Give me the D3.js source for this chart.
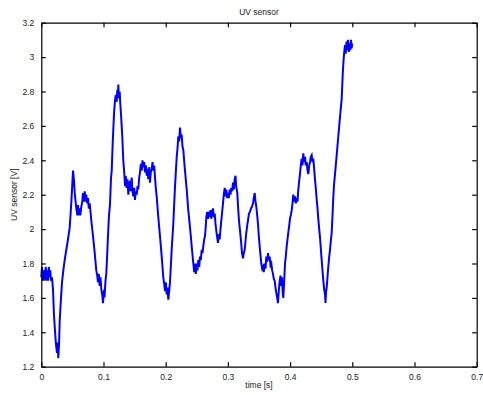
<!DOCTYPE html>
<html>
<head>
<meta charset="utf-8">
<script src="https://cdn.jsdelivr.net/npm/d3@7"></script>
<style>
  body { margin: 0; background: #fff; }
  text { font-family: "Liberation Sans", Arial, sans-serif; fill: #222; }
</style>
</head>
<body>
<svg id="chart" width="483" height="395"></svg>
<script>
  // sample times [s]
const times = [
  0.0000, 0.0011, 0.0023, 0.0035, 0.0047, 0.0059, 0.0072, 0.0084, 0.0096, 0.0108,
  0.0121, 0.0132, 0.0145, 0.0156, 0.0172, 0.0188, 0.0204, 0.0220, 0.0236, 0.0252,
  0.0264, 0.0273, 0.0285, 0.0296, 0.0317, 0.0333, 0.0354, 0.0376, 0.0402, 0.0429,
  0.0457, 0.0482, 0.0498, 0.0510, 0.0526, 0.0537, 0.0563, 0.0579, 0.0590, 0.0601,
  0.0617, 0.0627, 0.0643, 0.0659, 0.0670, 0.0682, 0.0698, 0.0711, 0.0723, 0.0738,
  0.0751, 0.0764, 0.0778, 0.0791, 0.0804, 0.0831, 0.0859, 0.0884, 0.0899, 0.0912,
  0.0924, 0.0939, 0.0952, 0.0965, 0.0979, 0.0992, 0.1005, 0.1019, 0.1032, 0.1045,
  0.1059, 0.1072, 0.1088, 0.1104, 0.1121, 0.1132, 0.1148, 0.1169, 0.1185, 0.1198,
  0.1212, 0.1222, 0.1233, 0.1238, 0.1249, 0.1260, 0.1270, 0.1281, 0.1302, 0.1318,
  0.1333, 0.1346, 0.1358, 0.1373, 0.1386, 0.1399, 0.1413, 0.1426, 0.1439, 0.1453,
  0.1466, 0.1479, 0.1494, 0.1506, 0.1519, 0.1534, 0.1547, 0.1559, 0.1574, 0.1587,
  0.1600, 0.1614, 0.1627, 0.1640, 0.1654, 0.1667, 0.1680, 0.1695, 0.1707, 0.1720,
  0.1735, 0.1748, 0.1760, 0.1775, 0.1788, 0.1801, 0.1815, 0.1828, 0.1841, 0.1855,
  0.1881, 0.1908, 0.1936, 0.1961, 0.1976, 0.1989, 0.2002, 0.2016, 0.2029, 0.2042,
  0.2056, 0.2069, 0.2096, 0.2122, 0.2150, 0.2177, 0.2190, 0.2203, 0.2217, 0.2230,
  0.2243, 0.2257, 0.2270, 0.2283, 0.2310, 0.2338, 0.2363, 0.2391, 0.2418, 0.2444,
  0.2458, 0.2471, 0.2484, 0.2498, 0.2511, 0.2524, 0.2539, 0.2551, 0.2564, 0.2579,
  0.2592, 0.2604, 0.2619, 0.2632, 0.2645, 0.2653, 0.2667, 0.2680, 0.2693, 0.2707,
  0.2720, 0.2733, 0.2748, 0.2760, 0.2773, 0.2788, 0.2801, 0.2814, 0.2828, 0.2841,
  0.2854, 0.2868, 0.2881, 0.2894, 0.2908, 0.2921, 0.2934, 0.2949, 0.2961, 0.2974,
  0.2989, 0.3002, 0.3014, 0.3029, 0.3042, 0.3055, 0.3069, 0.3082, 0.3095, 0.3109,
  0.3122, 0.3133, 0.3151, 0.3167, 0.3178, 0.3195, 0.3211, 0.3227, 0.3243, 0.3256,
  0.3270, 0.3283, 0.3296, 0.3310, 0.3323, 0.3339, 0.3355, 0.3371, 0.3387, 0.3404,
  0.3416, 0.3431, 0.3444, 0.3457, 0.3471, 0.3484, 0.3497, 0.3511, 0.3524, 0.3537,
  0.3551, 0.3564, 0.3577, 0.3592, 0.3605, 0.3617, 0.3632, 0.3645, 0.3658, 0.3672,
  0.3685, 0.3698, 0.3712, 0.3725, 0.3738, 0.3752, 0.3765, 0.3778, 0.3793, 0.3805,
  0.3818, 0.3833, 0.3846, 0.3859, 0.3870, 0.3881, 0.3891, 0.3905, 0.3918, 0.3931,
  0.3945, 0.3958, 0.3971, 0.3986, 0.3998, 0.4011, 0.4026, 0.4039, 0.4051, 0.4066,
  0.4079, 0.4092, 0.4106, 0.4119, 0.4132, 0.4146, 0.4159, 0.4172, 0.4186, 0.4199,
  0.4212, 0.4227, 0.4240, 0.4252, 0.4267, 0.4280, 0.4293, 0.4307, 0.4320, 0.4333,
  0.4347, 0.4360, 0.4373, 0.4387, 0.4400, 0.4413, 0.4428, 0.4441, 0.4453, 0.4468,
  0.4481, 0.4508, 0.4521, 0.4534, 0.4548, 0.4561, 0.4569, 0.4577, 0.4588, 0.4601,
  0.4614, 0.4629, 0.4642, 0.4654, 0.4669, 0.4682, 0.4695, 0.4709, 0.4722, 0.4749,
  0.4775, 0.4802, 0.4830, 0.4846, 0.4859, 0.4871, 0.4883, 0.4894, 0.4907, 0.4920,
  0.4931, 0.4944, 0.4955, 0.4968, 0.4979, 0.4990, 0.4998
];

  // sensor voltage [V] at those times
const voltages = [
  1.72, 1.78, 1.70, 1.76, 1.70, 1.74, 1.78, 1.70, 1.76, 1.70,
  1.78, 1.72, 1.76, 1.70, 1.72, 1.65, 1.50, 1.41, 1.33, 1.28,
  1.34, 1.25, 1.33, 1.47, 1.60, 1.69, 1.76, 1.82, 1.88, 1.94,
  2.01, 2.15, 2.26, 2.34, 2.28, 2.21, 2.12, 2.08, 2.14, 2.08,
  2.12, 2.08, 2.13, 2.16, 2.21, 2.16, 2.22, 2.16, 2.20, 2.15,
  2.18, 2.12, 2.15, 2.10, 2.05, 1.96, 1.86, 1.76, 1.73, 1.69,
  1.74, 1.67, 1.72, 1.65, 1.62, 1.57, 1.63, 1.62, 1.70, 1.74,
  1.85, 1.96, 2.08, 2.14, 2.30, 2.34, 2.50, 2.67, 2.75, 2.78,
  2.74, 2.81, 2.77, 2.84, 2.76, 2.80, 2.73, 2.67, 2.54, 2.40,
  2.33, 2.25, 2.31, 2.24, 2.29, 2.20, 2.26, 2.28, 2.22, 2.30,
  2.22, 2.19, 2.24, 2.17, 2.22, 2.20, 2.25, 2.23, 2.30, 2.33,
  2.38, 2.34, 2.40, 2.36, 2.39, 2.33, 2.37, 2.31, 2.35, 2.29,
  2.36, 2.27, 2.33, 2.35, 2.39, 2.34, 2.37, 2.30, 2.24, 2.19,
  2.07, 1.96, 1.84, 1.72, 1.68, 1.64, 1.69, 1.62, 1.66, 1.59,
  1.64, 1.69, 1.88, 2.03, 2.25, 2.42, 2.47, 2.54, 2.51, 2.59,
  2.53, 2.55, 2.48, 2.46, 2.34, 2.23, 2.11, 2.01, 1.90, 1.80,
  1.75, 1.80, 1.74, 1.80, 1.76, 1.82, 1.78, 1.84, 1.82, 1.88,
  1.86, 1.90, 1.94, 1.96, 2.02, 2.07, 2.10, 2.06, 2.10, 2.07,
  2.11, 2.06, 2.10, 2.12, 2.07, 2.09, 2.03, 1.99, 1.95, 1.92,
  1.97, 1.94, 2.00, 2.05, 2.10, 2.15, 2.20, 2.24, 2.19, 2.23,
  2.18, 2.21, 2.18, 2.23, 2.20, 2.24, 2.22, 2.27, 2.23, 2.29,
  2.31, 2.25, 2.21, 2.11, 2.05, 1.99, 1.93, 1.86, 1.83, 1.86,
  1.88, 1.93, 1.98, 2.02, 2.05, 2.09, 2.10, 2.12, 2.13, 2.15,
  2.18, 2.21, 2.16, 2.13, 2.08, 2.03, 1.96, 1.90, 1.85, 1.80,
  1.77, 1.78, 1.75, 1.80, 1.77, 1.84, 1.81, 1.86, 1.82, 1.84,
  1.79, 1.80, 1.76, 1.74, 1.71, 1.70, 1.66, 1.63, 1.60, 1.57,
  1.64, 1.70, 1.73, 1.67, 1.72, 1.63, 1.60, 1.70, 1.80, 1.84,
  1.90, 1.94, 1.98, 2.02, 2.06, 2.08, 2.11, 2.15, 2.20, 2.16,
  2.19, 2.15, 2.18, 2.16, 2.23, 2.28, 2.32, 2.37, 2.41, 2.37,
  2.44, 2.39, 2.42, 2.37, 2.39, 2.34, 2.32, 2.37, 2.39, 2.42,
  2.43, 2.39, 2.41, 2.35, 2.29, 2.24, 2.17, 2.12, 2.06, 2.00,
  1.95, 1.82, 1.76, 1.70, 1.65, 1.62, 1.57, 1.63, 1.66, 1.72,
  1.78, 1.84, 1.88, 1.93, 1.98, 2.08, 2.19, 2.27, 2.32, 2.43,
  2.54, 2.65, 2.76, 2.90, 2.98, 3.03, 3.07, 3.02, 3.09, 3.04,
  3.10, 3.03, 3.08, 3.04, 3.10, 3.05, 3.08
];

const xTicks = [0, 0.1, 0.2, 0.3, 0.4, 0.5, 0.6, 0.7];
const yTicks = [1.2, 1.4, 1.6, 1.8, 2, 2.2, 2.4, 2.6, 2.8, 3, 3.2];

const svg = d3.select("#chart");
const box = {left: 41.3, right: 476.7, top: 22.7, bottom: 366.7};
const tickLen = 4.5;

const x = d3.scaleLinear().domain([0, 0.7]).range([box.left, box.right]);
const y = d3.scaleLinear().domain([1.2, 3.2]).range([box.bottom, box.top]);

  // data line
const points = times.map((t, i) => [t, voltages[i]]);
svg.append("path")
    .datum(points)
    .attr("fill", "none")
    .attr("stroke", "#0000ff")
    .attr("stroke-width", 2)
    .attr("d", d3.line().x(d => x(d[0])).y(d => y(d[1])));

  // axes, MATLAB style: inward ticks on all four sides
const fmt = d => String(+d.toFixed(1));
svg.append("g")
    .attr("transform", `translate(0,${box.bottom})`)
    .call(d3.axisBottom(x).tickValues(xTicks).tickFormat(fmt)
        .tickSizeInner(-tickLen).tickSizeOuter(0).tickPadding(7));
svg.append("g")
    .attr("transform", `translate(0,${box.top})`)
    .call(d3.axisTop(x).tickValues(xTicks).tickFormat("")
        .tickSizeInner(-tickLen).tickSizeOuter(0));
svg.append("g")
    .attr("transform", `translate(${box.left},0)`)
    .call(d3.axisLeft(y).tickValues(yTicks).tickFormat(fmt)
        .tickSizeInner(-tickLen).tickSizeOuter(0).tickPadding(7));
svg.append("g")
    .attr("transform", `translate(${box.right},0)`)
    .call(d3.axisRight(y).tickValues(yTicks).tickFormat("")
        .tickSizeInner(-tickLen).tickSizeOuter(0));

svg.selectAll(".domain, .tick line")
    .attr("stroke", "#000")
    .attr("stroke-width", 1.2);
svg.selectAll(".tick text")
    .style("font-family", "'Liberation Sans', Arial, sans-serif")
    .style("font-size", "8.5px")
    .attr("fill", "#222");

  // titles
svg.append("text")
    .attr("x", (box.left + box.right) / 2)
    .attr("y", 15)
    .attr("text-anchor", "middle")
    .style("font-size", "8.5px")
    .text("UV sensor");
svg.append("text")
    .attr("x", (box.left + box.right) / 2)
    .attr("y", 388)
    .attr("text-anchor", "middle")
    .style("font-size", "8.5px")
    .text("time [s]");
svg.append("text")
    .attr("transform", `translate(17,${(box.top + box.bottom) / 2}) rotate(-90)`)
    .attr("text-anchor", "middle")
    .style("font-size", "8.5px")
    .text("UV sensor [V]");
</script>
</body>
</html>
